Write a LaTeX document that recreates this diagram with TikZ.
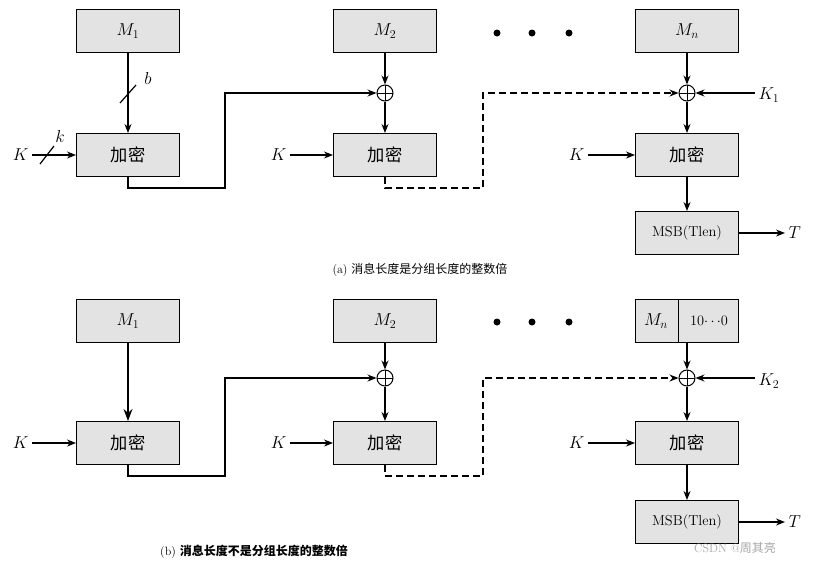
\documentclass[tikz,border=0pt]{standalone}
\usepackage{fontspec}
\newfontfamily\cjk{Noto Sans CJK SC}
\usetikzlibrary{arrows.meta}
\begin{document}
\begin{tikzpicture}[x=1pt,y=-1pt,
 box/.style={draw,line width=1pt,fill=gray!22,minimum width=103pt,minimum height=43pt,inner sep=0pt,font=\LARGE},
 xo/.style={draw,line width=1pt,circle,minimum size=16pt,inner sep=0pt,path picture={\draw[line width=1pt] (path picture bounding box.north)--(path picture bounding box.south) (path picture bounding box.west)--(path picture bounding box.east);}},
 ar/.style={-{Stealth[length=9pt,width=7pt]},line width=1.2pt},
 dl/.style={line width=1.2pt,dash pattern=on 7pt off 4pt,-{Stealth[length=9pt,width=7pt]}},
 lab/.style={font=\LARGE}]
\useasboundingbox (0,0) rectangle (815,566);
% (a)
\node[box] (a1) at (128,31) {$M_1$};
\node[box] (a2) at (385,31) {$M_2$};
\node[box] (an) at (687,31) {$M_n$};
\foreach \x in {497,532,569}\fill (\x,33) circle (3.5pt);
\node[box] (e1) at (128,155) {\cjk 加密};
\node[box] (e2) at (385,155) {\cjk 加密};
\node[box] (en) at (687,155) {\cjk 加密};
\node[box] (ms) at (687,233) {\Large MSB(Tlen)};
\node[xo] (x2) at (385,93) {};
\node[xo] (xn) at (687,93) {};
\draw[ar] (a1) -- (e1);
\draw[line width=1.2pt] (120,103)--(136,85);
\node[lab] (b) at (148,78) {$b$};
\draw[ar] (a2) -- (x2); \draw[ar] (x2) -- (e2);
\draw[ar] (an) -- (xn); \draw[ar] (xn) -- (en);
\draw[ar] (en) -- (ms);
\draw[ar] (e1.south) |- (225,188) |- (x2.west);
\draw[dl] (e2.south) |- (483,188) |- (xn.west);
\node[lab,anchor=east] (ka) at (32,155) {$K$};
\draw[ar] (ka) -- (e1.west);
\draw[line width=1.2pt] (40,164)--(54,146);
\node[lab] (kk) at (60,136) {$k$};
\node[lab,anchor=east] (kb) at (290,155) {$K$};
\draw[ar] (kb) -- (e2.west);
\node[lab,anchor=east] (kc) at (588,155) {$K$};
\draw[ar] (kc) -- (en.west);
\node[lab,anchor=west] (k1) at (755,95) {$K_1$};
\draw[ar] (xn.east -| k1.west) -- (xn.east);
\node[lab,anchor=west] (t1) at (785,233) {$T$};
\draw[ar] (ms.east) -- (ms.east -| t1.west);
\node[font=\large] (ca) at (420,270) {(a) {\cjk 消息长度是分组长度的整数倍}};
% (b)
\node[box] (b1) at (128,321) {$M_1$};
\node[box] (b2) at (385,321) {$M_2$};
\node[box] (bn) at (687,321) {};
\draw[line width=1pt] (678,299.5)--(678,342.5);
\node[lab] (mnb) at (656,321) {$M_n$};
\node[font=\Large] (pad) at (709,321) {10$\cdots$0};
\foreach \x in {497,532,569}\fill (\x,322) circle (3.5pt);
\node[box] (f1) at (128,443) {\cjk 加密};
\node[box] (f2) at (385,443) {\cjk 加密};
\node[box] (fn) at (687,443) {\cjk 加密};
\node[box] (ms2) at (687,522) {\Large MSB(Tlen)};
\node[xo] (y2) at (385,378) {};
\node[xo] (yn) at (687,378) {};
\draw[line width=1.4pt,-{Stealth[length=12pt,width=9pt]}] (b1) -- (f1);
\draw[ar] (b2) -- (y2); \draw[ar] (y2) -- (f2);
\draw[ar] (bn) -- (yn); \draw[ar] (yn) -- (fn);
\draw[ar] (fn) -- (ms2);
\draw[ar] (f1.south) |- (225,476) |- (y2.west);
\draw[dl] (f2.south) |- (483,476) |- (yn.west);
\node[lab,anchor=east] (la) at (32,443) {$K$};
\draw[ar] (la) -- (f1.west);
\node[lab,anchor=east] (lb) at (290,443) {$K$};
\draw[ar] (lb) -- (f2.west);
\node[lab,anchor=east] (lc) at (588,443) {$K$};
\draw[ar] (lc) -- (fn.west);
\node[lab,anchor=west] (k2) at (755,381) {$K_2$};
\draw[ar] (yn.east -| k2.west) -- (yn.east);
\node[lab,anchor=west] (t2) at (785,522) {$T$};
\draw[ar] (ms2.east) -- (ms2.east -| t2.west);
\node[font=\large] (cb) at (254,552) {(b) {\cjk\bfseries 消息长度不是分组长度的整数倍}};
\node[text=gray!70,font=\large] (wm) at (735,548) {CSDN @{\cjk 周其亮}};
\end{tikzpicture}
\end{document}
